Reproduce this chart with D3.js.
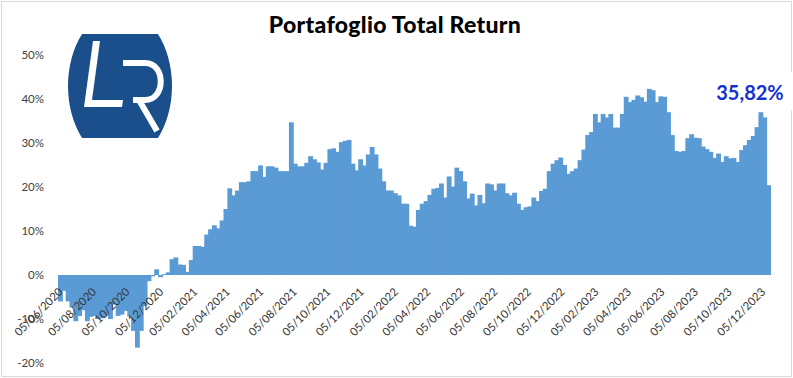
<!DOCTYPE html>
<html>
<head>
<meta charset="utf-8">
<script src="https://cdn.jsdelivr.net/npm/d3@7"></script>
<style>
  html, body { margin: 0; padding: 0; background: #fff; }
  svg { display: block; }
</style>
</head>
<body>
<svg id="chart" width="793" height="378"></svg>
<script>
// ---- DATA ----
const title = "Portafoglio Total Return";
const startDate = "05/06/2020"; // first weekly observation
const weeklyReturns = [
  -6.0, -3.6, -6.0, -7.4, -10.5, -9.3, -8.0, -10.5, -9.5, -9.3,
  -10.0, -9.8, -9.3, -10.0, -6.7, -9.3, -9.0, -8.2, -9.4, -12.7,
  -16.5, -12.7, -7.0, -1.4, -0.3, 1.3, -0.5, 0.2, 0.6, 3.6,
  4.0, 2.4, 2.3, 0.7, 3.4, 6.6, 6.6, 6.4, 9.2, 10.4,
  11.3, 10.6, 12.4, 15.0, 19.7, 18.1, 19.2, 21.1, 21.1, 21.3,
  23.6, 23.6, 24.9, 22.3, 24.7, 24.7, 24.4, 23.6, 23.6, 23.6,
  34.7, 25.3, 24.7, 24.7, 25.5, 27.0, 26.3, 25.6, 24.0, 25.5,
  28.6, 28.8, 28.0, 30.2, 30.5, 30.7, 25.3, 23.8, 26.3, 24.9,
  27.4, 29.1, 27.4, 24.2, 21.3, 19.2, 19.2, 18.6, 18.1, 16.2,
  16.2, 11.2, 11.0, 14.8, 16.2, 16.8, 18.2, 19.6, 19.8, 20.8,
  17.6, 22.4, 20.1, 24.4, 23.6, 21.3, 17.4, 18.5, 15.8, 18.2,
  16.3, 20.8, 20.6, 19.2, 20.8, 20.8, 18.6, 18.1, 18.7, 16.2,
  14.8, 15.4, 15.6, 17.6, 16.8, 19.1, 19.6, 23.6, 25.3, 26.1,
  26.7, 25.0, 23.0, 23.6, 24.2, 26.1, 28.5, 31.8, 32.5, 36.6,
  34.7, 36.6, 35.8, 36.6, 33.5, 33.5, 36.6, 40.5, 39.3, 39.8,
  40.8, 40.4, 39.4, 42.3, 42.0, 39.3, 40.6, 40.5, 37.0, 31.8,
  28.2, 28.0, 28.2, 31.1, 32.0, 31.2, 31.1, 29.2, 28.6, 28.0,
  26.6, 27.6, 25.7, 27.0, 26.5, 26.6, 25.7, 28.4, 29.5, 30.7,
  31.6, 33.6, 37.0, 35.82, 20.4
];
const xTickLabels = [
  "05/06/2020","05/08/2020","05/10/2020","05/12/2020","05/02/2021","05/04/2021",
  "05/06/2021","05/08/2021","05/10/2021","05/12/2021","05/02/2022","05/04/2022",
  "05/06/2022","05/08/2022","05/10/2022","05/12/2022","05/02/2023","05/04/2023",
  "05/06/2023","05/08/2023","05/10/2023","05/12/2023"
];
const yTickValues = [-20, -10, 0, 10, 20, 30, 40, 50];
const lastValueLabel = "35,82%";

// ---- SETUP ----
const parse = d3.timeParse("%d/%m/%Y");
const start = parse(startDate);
const data = weeklyReturns.map((v, i) => ({ date: d3.timeDay.offset(start, 7 * i), value: v }));

const svg = d3.select("#chart");
const plot = { left: 58, right: 770, top: 55, bottom: 363 };

const x = d3.scaleTime()
  .domain([d3.timeHour.offset(data[0].date, -84), d3.timeHour.offset(data[data.length - 1].date, 84)])
  .range([plot.left, plot.right]);
const y = d3.scaleLinear().domain([-20, 50]).range([plot.bottom, plot.top]);

const FONT = "Lato, 'Liberation Sans', sans-serif";

// chart border
svg.append("rect")
  .attr("x", 1.5).attr("y", 1.5).attr("width", 790).attr("height", 375)
  .attr("fill", "#fff").attr("stroke", "#d9d9d9").attr("stroke-width", 1);

// title
svg.append("text")
  .attr("x", 395).attr("y", 33)
  .attr("text-anchor", "middle")
  .attr("font-family", FONT)
  .attr("font-weight", "900")
  .attr("font-size", 23)
  .attr("letter-spacing", 0.3)
  .attr("fill", "#000")
  .text(title);

// logo
const defs = svg.append("defs");
defs.append("clipPath").attr("id", "logoClip")
  .append("rect").attr("x", 60).attr("y", 34).attr("width", 120).attr("height", 104);
const logo = svg.append("g").attr("clip-path", "url(#logoClip)");
logo.append("ellipse").attr("cx", 120).attr("cy", 86).attr("rx", 52).attr("ry", 76).attr("fill", "#1a4f8c");
logo.append("path")
  .attr("d", "M93,41 L100,41 L92,100 L123,100 L122,107 L84,107 Z")
  .attr("fill", "#fff");
logo.append("path")
  .attr("d", "M123,63 L145,63 C166,63 166,100 145,100 L133,100 M139,100 L157,131")
  .attr("fill", "none").attr("stroke", "#fff").attr("stroke-width", 6);

// bars
const step = x(d3.timeDay.offset(start, 7)) - x(start);
svg.append("g").selectAll("rect")
  .data(data).join("rect")
  .attr("x", d => x(d.date) - step / 2)
  .attr("width", step + 1)
  .attr("y", d => y(Math.max(0, d.value)))
  .attr("height", d => Math.abs(y(d.value) - y(0)))
  .attr("fill", "#5b9bd5");

// y axis labels
const yAxis = d3.axisLeft(y).tickValues(yTickValues).tickSize(0).tickFormat(d => d + "%");
const yg = svg.append("g").attr("transform", "translate(44,0)").call(yAxis);
yg.select(".domain").remove();
yg.selectAll("text")
  .attr("font-family", FONT)
  .attr("font-size", 11.5).attr("fill", "#404040").attr("x", 0);

// x axis labels (rotated)
const tickDates = xTickLabels.map(parse);
const xAxis = d3.axisBottom(x).tickValues(tickDates).tickSize(0).tickFormat(d3.timeFormat("%d/%m/%Y"));
const xg = svg.append("g").attr("transform", `translate(0,${y(0)})`).call(xAxis);
xg.select(".domain").remove();
xg.selectAll("text")
  .attr("font-family", FONT)
  .attr("font-size", 11.3).attr("fill", "#333")
  .attr("text-anchor", "end")
  .attr("y", 0).attr("dy", 0)
  .attr("transform", "translate(3,17.5) rotate(-45)");

// last value label
svg.append("rect").attr("x", 708).attr("y", 72).attr("width", 85).attr("height", 38).attr("fill", "#fff");
svg.append("text")
  .attr("x", 750).attr("y", 100)
  .attr("text-anchor", "middle")
  .attr("font-family", FONT)
  .attr("font-weight", "bold")
  .attr("font-size", 20)
  .attr("fill", "#1432d2")
  .text(lastValueLabel);
</script>
</body>
</html>
